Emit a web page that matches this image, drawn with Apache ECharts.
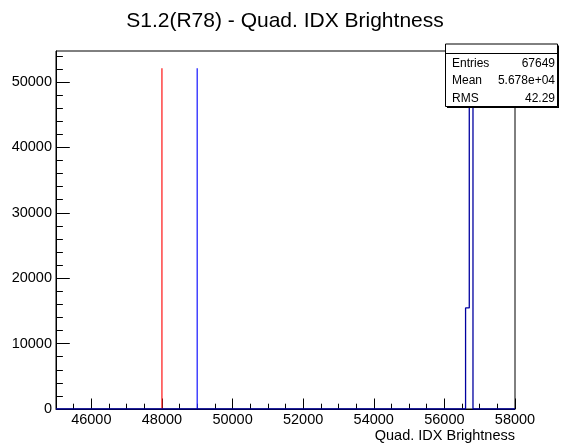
<!DOCTYPE html>
<html>
<head>
<meta charset="utf-8">
<script src="https://cdn.jsdelivr.net/npm/echarts@6/dist/echarts.min.js"></script>
<style>
html,body{margin:0;padding:0;background:#fff;}
#c{width:561px;height:447px;}
</style>
</head>
<body>
<div id="c"></div>
<script>
// ---- data ----
const titleText = 'S1.2(R78) - Quad. IDX Brightness';
const xAxisTitle = 'Quad. IDX Brightness';
const xRange = [45000, 58000];
const yRange = [0, 54740];
const xTickLabels = [46000, 48000, 50000, 52000, 54000, 56000, 58000];
const yTickLabels = [0, 10000, 20000, 30000, 40000, 50000];
const binEdges = [56600, 56705, 56810];
const binCounts = [15450, 52100];
const refLines = [48000, 49000];
const refColors = ['#ff2020', '#2020ff'];
const statsNames = ['Entries', 'Mean', 'RMS'];
const statsValues = ['67649', '5.678e+04', '42.29'];

// ---- derived ----
const FONT = '"Liberation Sans", Arial, Helvetica, sans-serif';
const xMinor = [];
for (let v = xRange[0]; v <= xRange[1]; v += 500) xMinor.push(v);
const yMinor = [];
for (let v = yRange[0]; v <= yRange[1]; v += 2000) yMinor.push(v);

const histPts = [[xRange[0], 0]];
let prev = 0;
for (let i = 0; i < binCounts.length; i++) {
  histPts.push([binEdges[i], prev]);
  histPts.push([binEdges[i], binCounts[i]]);
  prev = binCounts[i];
}
histPts.push([binEdges[binEdges.length - 1], prev]);
histPts.push([binEdges[binEdges.length - 1], 0]);
histPts.push([xRange[1], 0]);
const peak = Math.max.apply(null, binCounts);

const series = [];
refLines.forEach((x, i) => {
  series.push({
    type: 'line', xAxisIndex: 0, yAxisIndex: 0,
    data: [[x, 0], [x, peak]], symbol: 'none', silent: true,
    lineStyle: { color: refColors[i], width: 1.5, opacity: 0.85 }, z: 3
  });
});
series.push({
  type: 'line', xAxisIndex: 0, yAxisIndex: 0,
  data: histPts, symbol: 'none', silent: true,
  lineStyle: { color: '#0000a0', width: 1.3 }, z: 4
});

// stats box geometry
const bx = 445.5, by = 44, bw = 112, bh = 62.5, hdr = 9.5;
const rowH = (bh - hdr) / statsNames.length;
const graphics = [
  { type: 'text', z: 200, style: { text: titleText, x: 285, y: 11, align: 'center', verticalAlign: 'top', font: '21px ' + FONT, fill: '#000' } },
  { type: 'text', z: 200, style: { text: xAxisTitle, x: 515, y: 428.5, align: 'right', verticalAlign: 'top', font: '14.5px ' + FONT, fill: '#000' } },
  { type: 'rect', z: 199, shape: { x: bx + 1.5, y: by + 1.5, width: bw, height: bh }, style: { fill: '#000' } },
  { type: 'rect', z: 200, shape: { x: bx, y: by, width: bw, height: bh }, style: { fill: '#fff', stroke: '#000', lineWidth: 1 } },
  { type: 'line', z: 201, shape: { x1: bx, y1: by + hdr, x2: bx + bw, y2: by + hdr }, style: { stroke: '#000', lineWidth: 1 } }
];
statsNames.forEach((n, i) => {
  const cy = by + hdr + rowH * i + rowH / 2 + 1;
  graphics.push({ type: 'text', z: 202, style: { text: n, x: bx + 6.5, y: cy, align: 'left', verticalAlign: 'middle', font: '12px ' + FONT, fill: '#000' } });
  graphics.push({ type: 'text', z: 202, style: { text: statsValues[i], x: bx + bw - 2.5, y: cy, align: 'right', verticalAlign: 'middle', font: '12px ' + FONT, fill: '#000' } });
});

const chart = echarts.init(document.getElementById('c'), null, { renderer: 'canvas' });
chart.setOption({
  animation: false,
  backgroundColor: '#fff',
  grid: { left: 56, right: 46, top: 51, bottom: 38, show: true, borderColor: '#000', borderWidth: 1, containLabel: false, outerBoundsMode: 'none' },
  xAxis: [
    {
      type: 'value', position: 'bottom', min: xRange[0], max: xRange[1],
      axisLine: { show: true, onZero: false, lineStyle: { color: '#000', width: 1 } },
      axisTick: { show: true, inside: true, length: 10.5, customValues: xTickLabels, lineStyle: { color: '#000' } },
      axisLabel: { show: true, customValues: xTickLabels, margin: 3.5, color: '#000', fontSize: 14.5, fontFamily: FONT, formatter: v => String(v) },
      splitLine: { show: false }
    },
    {
      type: 'value', position: 'bottom', min: xRange[0], max: xRange[1],
      axisLine: { show: false, onZero: false },
      axisTick: { show: true, inside: true, length: 5.3, customValues: xMinor, lineStyle: { color: '#000' } },
      axisLabel: { show: false },
      splitLine: { show: false }
    }
  ],
  yAxis: [
    {
      type: 'value', position: 'left', min: yRange[0], max: yRange[1],
      axisLine: { show: true, onZero: false, lineStyle: { color: '#000', width: 1 } },
      axisTick: { show: true, inside: true, length: 13.8, customValues: yTickLabels, lineStyle: { color: '#000' } },
      axisLabel: { show: true, customValues: yTickLabels, margin: 4, color: '#000', fontSize: 14.5, fontFamily: FONT, formatter: v => String(v) },
      splitLine: { show: false }
    },
    {
      type: 'value', position: 'left', min: yRange[0], max: yRange[1],
      axisLine: { show: false, onZero: false },
      axisTick: { show: true, inside: true, length: 6.9, customValues: yMinor, lineStyle: { color: '#000' } },
      axisLabel: { show: false },
      splitLine: { show: false }
    }
  ],
  series: series,
  graphic: graphics
});
</script>
</body>
</html>
